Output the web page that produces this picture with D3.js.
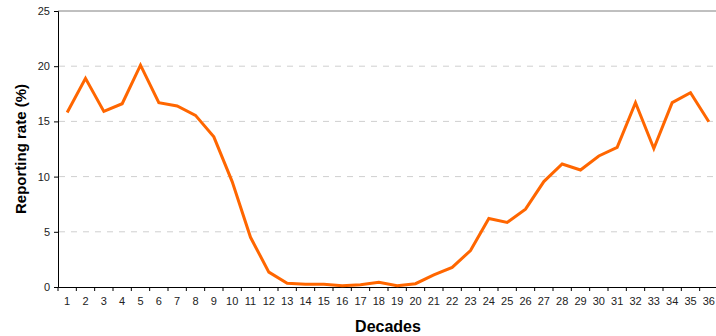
<!DOCTYPE html>
<html>
<head>
<meta charset="utf-8">
<script src="https://cdn.jsdelivr.net/npm/d3@7"></script>
<style>
  body { margin: 0; background: #fff; }
  svg { display: block; font-family: "Liberation Sans", Arial, sans-serif; }
</style>
</head>
<body>
<div id="chart"></div>
<script>
// Chart data
const decades = d3.range(1, 37).map(String);
const reportingRate = [
  15.8, 18.9, 15.9, 16.6, 20.1, 16.7, 16.4, 15.55, 13.6, 9.55,
  4.5, 1.35, 0.33, 0.25, 0.24, 0.12, 0.2, 0.42, 0.12, 0.3,
  1.09, 1.78, 3.3, 6.2, 5.85, 7.05, 9.55, 11.14, 10.6, 11.87,
  12.65, 16.7, 12.55, 16.7, 17.6, 14.97
];
const yTicks = [0, 5, 10, 15, 20, 25];

const width = 716, height = 336;
const margin = {top: 11, right: -2, bottom: 49, left: 58};

let svg = d3.select("#chart")
    .append("svg")
    .attr("width", width)
    .attr("height", height);

// Scales
let x = d3.scaleBand()
    .domain(decades)
    .range([margin.left, width - margin.right]);

let y = d3.scaleLinear()
    .domain([0, 25])
    .range([height - margin.bottom, margin.top]);

// Dashed gridlines
svg.append("g")
    .selectAll("line")
    .data(yTicks.filter(d => d > 0 && d < 25))
    .enter()
    .append("line")
    .attr("x1", margin.left + 1)
    .attr("x2", width)
    .attr("y1", d => y(d))
    .attr("y2", d => y(d))
    .attr("stroke", "#cfcfcf")
    .attr("stroke-width", 1)
    .attr("stroke-dasharray", "6,6");

// Top border
svg.append("line")
    .attr("x1", margin.left)
    .attr("x2", width)
    .attr("y1", y(25))
    .attr("y2", y(25))
    .attr("stroke", "#808080")
    .attr("stroke-width", 1);

// Y axis
let yAxis = svg.append("g")
    .attr("transform", `translate(${margin.left},0)`)
    .call(d3.axisLeft(y).tickValues(yTicks).tickSize(4).tickPadding(4));
yAxis.select(".domain").attr("stroke", "#000");
yAxis.selectAll("text").style("font-size", "11px").attr("fill", "#222");

// X axis with ticks between categories
let xAxis = svg.append("g")
    .attr("transform", `translate(0,${y(0)})`)
    .call(d3.axisBottom(x).tickSize(0).tickPadding(10));
xAxis.select(".domain").attr("stroke", "#000").attr("stroke-width", 1.2);
xAxis.selectAll("text").style("font-size", "11px").attr("fill", "#222");

svg.append("g")
    .selectAll("line")
    .data(decades)
    .enter()
    .append("line")
    .attr("x1", d => x(d))
    .attr("x2", d => x(d))
    .attr("y1", y(0))
    .attr("y2", y(0) + 4)
    .attr("stroke", "#000");

// Line
let line = d3.line()
    .x((d, i) => x(decades[i]) + x.bandwidth() / 2)
    .y(d => y(d));

svg.append("path")
    .datum(reportingRate)
    .attr("d", line)
    .attr("fill", "none")
    .attr("stroke", "#ff6600")
    .attr("stroke-width", 3)
    .attr("stroke-linejoin", "miter");

// Axis titles
svg.append("text")
    .attr("transform", `translate(25.5, ${(y(0) + y(25)) / 2}) rotate(-90)`)
    .attr("text-anchor", "middle")
    .style("font-size", "15px")
    .style("font-weight", "bold")
    .text("Reporting rate (%)");

svg.append("text")
    .attr("x", (margin.left + width - margin.right) / 2)
    .attr("y", 331.5)
    .attr("text-anchor", "middle")
    .style("font-size", "16px")
    .style("font-weight", "bold")
    .text("Decades");
</script>
</body>
</html>
